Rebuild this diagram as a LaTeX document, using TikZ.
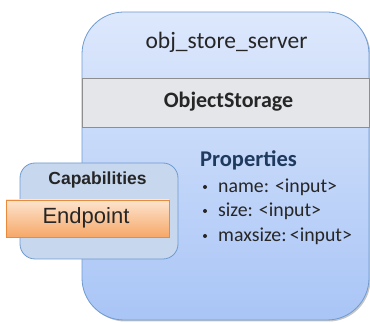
\documentclass[tikz,border=0pt]{standalone}
\usepackage{fontspec}
\setmainfont{Carlito}
\newfontfamily\arialfont{Liberation Sans}
\usetikzlibrary{shadows}
\definecolor{srvtop}{HTML}{DDE8FC}
\definecolor{srvbot}{HTML}{A9C5F6}
\definecolor{srvline}{HTML}{6E9BD0}
\definecolor{bandfill}{HTML}{E4E6EA}
\definecolor{bandline}{HTML}{8E8E8E}
\definecolor{capfill}{HTML}{C6D7EE}
\definecolor{eptop}{HTML}{FDE4CF}
\definecolor{epbot}{HTML}{F6A868}
\definecolor{epline}{HTML}{EC8A3C}
\definecolor{txt}{HTML}{262626}
\definecolor{proptxt}{HTML}{1F3A5F}
\begin{document}
\begin{tikzpicture}[x=1pt,y=-1pt,
  serverbox/.style={draw=srvline, line width=0.8pt, rounded corners=42pt,
    top color=srvtop, bottom color=srvbot, inner sep=0pt,
    drop shadow={shadow xshift=1.5pt, shadow yshift=-1.5pt, opacity=0.45}},
  bandbox/.style={draw=bandline, line width=0.8pt, fill=bandfill, inner sep=0pt},
  capbox/.style={draw=srvline, line width=0.8pt, fill=capfill, rounded corners=15pt, inner sep=0pt},
  epbox/.style={draw=epline, line width=0.8pt, top color=eptop, bottom color=epbot, inner sep=0pt,
    drop shadow={shadow xshift=1pt, shadow yshift=-1pt, opacity=0.35}},
  lbl/.style={text=txt, inner sep=0pt},
  item/.style={text=txt, inner sep=0pt, anchor=base west, font=\fontsize{19.8}{22}\selectfont},
  dot/.style={fill=txt, circle, inner sep=0pt, minimum size=4pt}
]
\useasboundingbox (0,0) rectangle (370,323);
\node[serverbox, minimum width=287pt, minimum height=308pt] (server) at (225.5,166) {};
\node[bandbox, minimum width=287pt, minimum height=49pt] (band) at (225.5,102.5) {};
\node[lbl, font=\fontsize{23.5}{27}\selectfont] (title) at (226.5,42) {obj\_store\_server};
\node[lbl, font=\fontsize{22}{26}\selectfont\bfseries] (objs) at (228.5,102) {ObjectStorage};
\node[capbox, minimum width=158pt, minimum height=96pt] (cap) at (99,211) {};
\node[lbl, font=\arialfont\fontsize{17.5}{20}\selectfont\bfseries] (captxt) at (97.5,180) {Capabilities};
\node[epbox, minimum width=163pt, minimum height=37pt] (ep) at (87.5,218.5) {};
\node[lbl, font=\arialfont\fontsize{22}{26}\selectfont] (eptxt) at (86,218) {Endpoint};
\node[lbl, text=proptxt, anchor=west, font=\fontsize{22.5}{26}\selectfont\bfseries] (props) at (200,160) {Properties};
\node[dot] (b1) at (205,187) {};
\node[item] (i1) at (218,193) {name: <input>};
\node[dot] (b2) at (205,211) {};
\node[item] (i2) at (218,217) {size: <input>};
\node[dot] (b3) at (205,236) {};
\node[item] (i3) at (218,242) {maxsize:\,<input>};
\end{tikzpicture}
\end{document}
